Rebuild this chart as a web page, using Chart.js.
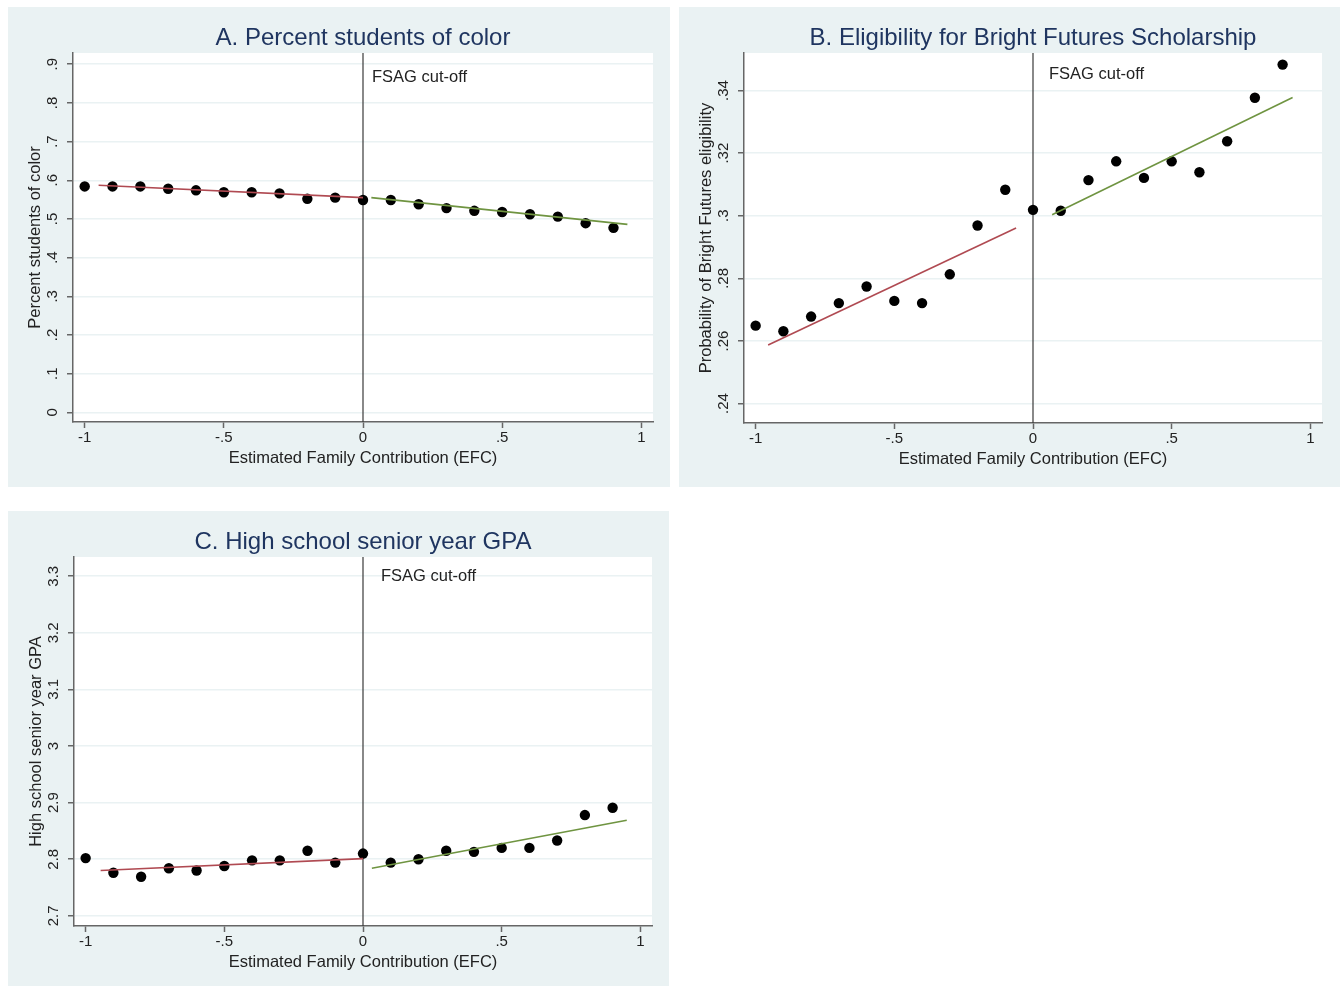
<!DOCTYPE html>
<html>
<head>
<meta charset="utf-8">
<script src="https://cdn.jsdelivr.net/npm/chart.js@4.4.1/dist/chart.umd.min.js"></script>
<style>
  body { margin: 0; background: #ffffff; width: 1342px; height: 986px; position: relative; overflow: hidden; }
  .panel { position: absolute; background: #eaf2f3; }
  canvas { display: block; }
</style>
</head>
<body>
<div class="panel" style="left:8px;top:7px;width:662px;height:480px"><canvas id="chartA" width="662" height="480"></canvas></div>
<div class="panel" style="left:679px;top:7px;width:661px;height:480px"><canvas id="chartB" width="661" height="480"></canvas></div>
<div class="panel" style="left:8px;top:511px;width:661px;height:475px"><canvas id="chartC" width="661" height="475"></canvas></div>
<script>
// bins of EFC (centered at the FSAG cut-off)
const efcBins = [-1, -0.9, -0.8, -0.7, -0.6, -0.5, -0.4, -0.3, -0.2, -0.1, 0, 0.1, 0.2, 0.3, 0.4, 0.5, 0.6, 0.7, 0.8, 0.9];
const xTicks = [-1, -0.5, 0, 0.5, 1];

// A. percent students of color
const pctColor = [0.584, 0.584, 0.584, 0.578, 0.574, 0.569, 0.569, 0.566, 0.552, 0.555, 0.549, 0.549, 0.538, 0.528, 0.521, 0.518, 0.512, 0.506, 0.489, 0.477];
const pctFitLeft = [[-0.95, 0.587], [0, 0.555]];
const pctFitRight = [[0.03, 0.555], [0.95, 0.486]];
const pctTicks = [0, 0.1, 0.2, 0.3, 0.4, 0.5, 0.6, 0.7, 0.8, 0.9];

// B. bright futures eligibility
const brightFut = [0.2649, 0.2631, 0.2678, 0.2721, 0.2774, 0.2728, 0.2721, 0.2813, 0.2969, 0.3083, 0.3019, 0.3016, 0.3114, 0.3174, 0.3121, 0.3174, 0.3139, 0.3238, 0.3377, 0.3483];
const brightFitLeft = [[-0.955, 0.2587], [-0.061, 0.2961]];
const brightFitRight = [[0.069, 0.3003], [0.936, 0.3378]];
const brightTicks = [0.24, 0.26, 0.28, 0.30, 0.32, 0.34];

// C. senior year GPA
const gpa = [2.802, 2.776, 2.769, 2.784, 2.780, 2.788, 2.798, 2.798, 2.815, 2.794, 2.810, 2.794, 2.800, 2.815, 2.813, 2.820, 2.820, 2.833, 2.878, 2.891];
const gpaFitLeft = [[-0.946, 2.780], [0, 2.801]];
const gpaFitRight = [[0.032, 2.784], [0.951, 2.869]];
const gpaTicks = [2.7, 2.8, 2.9, 3, 3.1, 3.2, 3.3];

const FONT = "'Liberation Sans', Arial, sans-serif";

// stata style labels: .5 instead of 0.5
function stataLabel(v) {
    let s = String(Math.round(v * 1000) / 1000);
    return s.replace(/^0\./, '.').replace(/^-0\./, '-.');
}

const panelText = {
    id: 'panelText',
    beforeDraw(chart) {
        // white plot region
        const ctx = chart.ctx, area = chart.chartArea;
        ctx.save();
        ctx.fillStyle = '#ffffff';
        ctx.fillRect(area.left, area.top, area.right - area.left, area.bottom - area.top);
        ctx.restore();
    },
    beforeDatasetsDraw(chart) {
        const ctx = chart.ctx, area = chart.chartArea;
        const x0 = chart.scales.x.getPixelForValue(0);
        ctx.save();
        ctx.strokeStyle = '#3a3a3a';
        ctx.lineWidth = 1.2;
        ctx.beginPath();
        ctx.moveTo(x0, area.top);
        ctx.lineTo(x0, area.bottom);
        ctx.stroke();
        ctx.restore();
    },
    afterDraw(chart, args, opts) {
        const ctx = chart.ctx, area = chart.chartArea;
        const xs = chart.scales.x, ys = chart.scales.y;
        const cx = (area.left + area.right) / 2;
        ctx.save();
        // title
        ctx.fillStyle = '#1f3560';
        ctx.font = '24px ' + FONT;
        ctx.textAlign = 'center';
        ctx.textBaseline = 'middle';
        ctx.fillText(opts.title, cx, area.top - 15);
        // x tick labels
        ctx.fillStyle = '#222';
        ctx.font = '15px ' + FONT;
        xs.ticks.forEach(t => {
            ctx.fillText(stataLabel(t.value), xs.getPixelForValue(t.value), area.bottom + 16);
        });
        // x title
        ctx.font = '16.5px ' + FONT;
        ctx.fillText(opts.xTitle, cx, area.bottom + 36);
        // y tick labels, rotated
        ctx.font = '15px ' + FONT;
        ys.ticks.forEach(t => {
            ctx.save();
            ctx.translate(area.left - 20, ys.getPixelForValue(t.value));
            ctx.rotate(-Math.PI / 2);
            ctx.fillText(stataLabel(t.value), 0, 0);
            ctx.restore();
        });
        // y title
        ctx.font = '16.5px ' + FONT;
        ctx.save();
        ctx.translate(area.left - 38, (area.top + area.bottom) / 2);
        ctx.rotate(-Math.PI / 2);
        ctx.fillText(opts.yTitle, 0, 0);
        ctx.restore();
        // cut-off label
        ctx.textAlign = 'left';
        ctx.fillText('FSAG cut-off', xs.getPixelForValue(0) + opts.cutDx, area.top + opts.cutDy);
        ctx.restore();
    }
};

function makePanel(id, vals, fitL, fitR, yTicks, yMin, yMax, pad, title, yTitle, cutDx, cutDy) {
    const pts = efcBins.map((x, i) => ({ x: x, y: vals[i] }));
    const toXY = arr => arr.map(p => ({ x: p[0], y: p[1] }));
    new Chart(document.getElementById(id), {
        type: 'scatter',
        data: {
            datasets: [
                {
                    data: toXY(fitL),
                    type: 'line',
                    borderColor: '#b04a52',
                    borderWidth: 1.6,
                    pointRadius: 0,
                    fill: false
                },
                {
                    data: toXY(fitR),
                    type: 'line',
                    borderColor: '#6f9441',
                    borderWidth: 1.6,
                    pointRadius: 0,
                    fill: false
                },
                {
                    data: pts,
                    backgroundColor: '#000',
                    borderWidth: 0,
                    pointRadius: 5.2
                }
            ]
        },
        options: {
            responsive: false,
            animation: false,
            layout: { padding: pad },
            plugins: {
                legend: { display: false },
                tooltip: { enabled: false },
                panelText: { title: title, yTitle: yTitle, xTitle: 'Estimated Family Contribution (EFC)', cutDx: cutDx, cutDy: cutDy }
            },
            scales: {
                x: {
                    type: 'linear',
                    min: -1.042,
                    max: 1.042,
                    afterBuildTicks: s => { s.ticks = xTicks.map(v => ({ value: v })); },
                    afterFit: s => { s.height = 10; },
                    ticks: { display: false },
                    grid: { drawOnChartArea: false, drawTicks: true, tickLength: 6, tickColor: '#666', tickWidth: 1.5 },
                    border: { display: true, color: '#666', width: 1.5 }
                },
                y: {
                    type: 'linear',
                    min: yMin,
                    max: yMax,
                    afterBuildTicks: s => { s.ticks = yTicks.map(v => ({ value: v })); },
                    afterFit: s => { s.width = 10; },
                    ticks: { display: false },
                    grid: { color: '#eaf2f3', lineWidth: 1.5, drawTicks: true, tickLength: 6, tickColor: '#666', tickWidth: 1.5 },
                    border: { display: true, color: '#666', width: 1.5 }
                }
            }
        },
        plugins: [panelText]
    });
}

makePanel('chartA', pctColor, pctFitLeft, pctFitRight, pctTicks, -0.025, 0.929,
    { left: 55, right: 17, top: 46, bottom: 55 },
    'A. Percent students of color', 'Percent students of color', 9, 24);
makePanel('chartB', brightFut, brightFitLeft, brightFitRight, brightTicks, 0.2338, 0.352,
    { left: 55, right: 18, top: 46, bottom: 54 },
    'B. Eligibility for Bright Futures Scholarship', 'Probability of Bright Futures eligibility', 16, 21);
makePanel('chartC', gpa, gpaFitLeft, gpaFitRight, gpaTicks, 2.682, 3.334,
    { left: 56, right: 17, top: 46, bottom: 50 },
    'C. High school senior year GPA', 'High school senior year GPA', 18, 19);
</script>
</body>
</html>
